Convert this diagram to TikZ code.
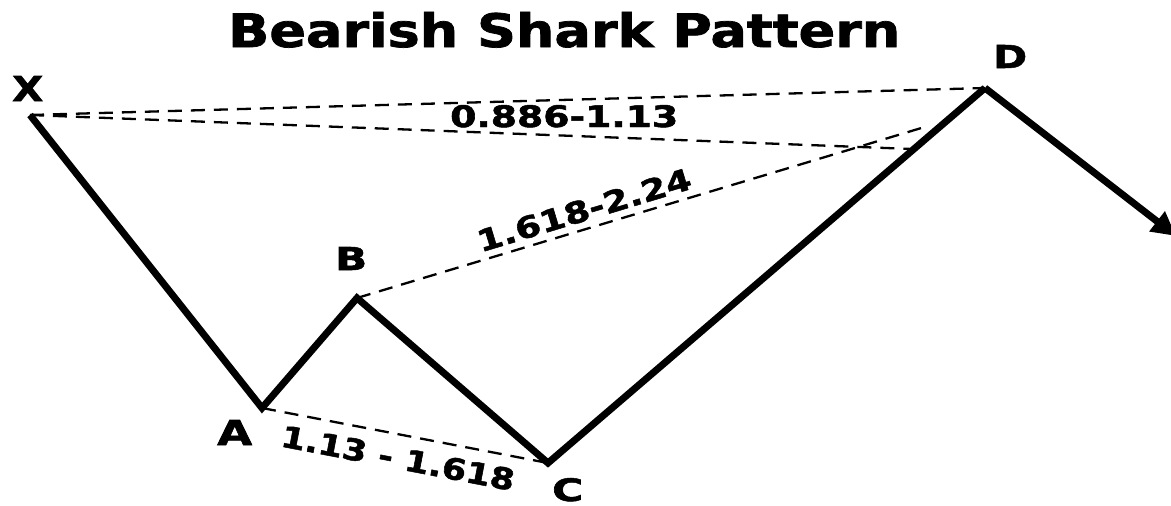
\documentclass[tikz,border=0pt]{standalone}
\usepackage{fontspec}
\setmainfont{DejaVu Sans}[BoldFeatures={FakeBold=1.6}]
\usetikzlibrary{arrows.meta}
\begin{document}
\begin{tikzpicture}[x=1pt,y=-1pt,
  leg/.style={line width=7pt,line join=miter,line cap=butt},
  guide/.style={line width=2.3pt,dash pattern=on 14pt off 9pt},
  lbl/.style={font=\bfseries,inner sep=0pt,anchor=base west}]
\useasboundingbox (0,0) rectangle (1171,506);
\fill[white] (0,0) rectangle (1171,506);
\node[lbl] (title) at (228,47) {\resizebox{672pt}{35pt}{Bearish Shark Pattern}};
\coordinate (X) at (30,115);
\coordinate (A) at (262,408);
\coordinate (B) at (357,298);
\coordinate (C) at (548,463);
\coordinate (D) at (985,88);
\coordinate (E) at (1176,236);
\coordinate (XD) at (912,149);
\coordinate (BD) at (928,126);
\draw[guide] (X) -- (D);
\draw[guide] (X) -- (XD);
\draw[guide] (B) -- (BD);
\draw[guide] (A) -- (C);
\draw[leg] (X) -- (A) -- (B) -- (C) -- (D);
\draw[leg,-{Triangle[length=24pt,width=24pt]}] (D) -- (E);
\node[lbl] (lX) at (12,101) {\resizebox{31pt}{25pt}{X}};
\node[lbl] (lA) at (217,445) {\resizebox{35pt}{25pt}{A}};
\node[lbl] (lB) at (335,270) {\resizebox{32pt}{23pt}{B}};
\node[lbl] (lC) at (552,501) {\resizebox{31pt}{23pt}{C}};
\node[lbl] (lD) at (993,68) {\resizebox{34pt}{23pt}{D}};
\node[lbl] (r1) at (450,127) {\resizebox{228pt}{22pt}{0.886-1.13}};
\node[font=\bfseries,inner sep=0pt,rotate=16.8] (r2) at (584,210) {\resizebox{222pt}{22pt}{1.618-2.24}};
\node[font=\bfseries,inner sep=0pt,rotate=-10.9] (r3) at (398,458) {\resizebox{237pt}{22pt}{1.13 - 1.618}};
\end{tikzpicture}
\end{document}
